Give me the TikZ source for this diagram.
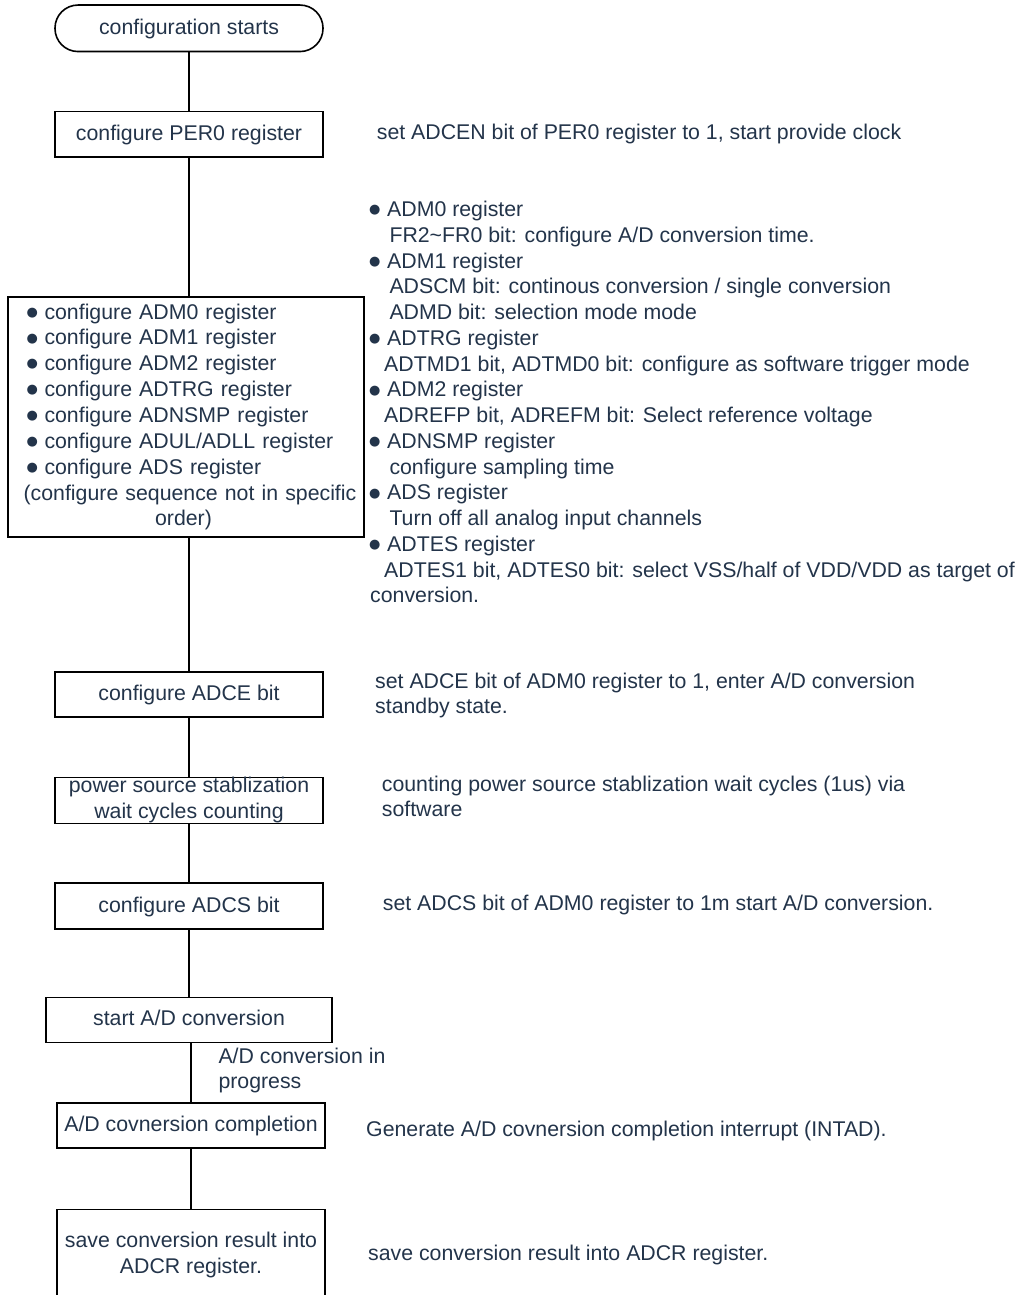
\documentclass[tikz,border=0pt]{standalone}
\usepackage{fontspec}
\setmainfont{Liberation Sans}
\newfontfamily\symfont{DejaVu Sans}
\definecolor{txt}{HTML}{23344A}
\newcommand\blt{\makebox[18pt][l]{\raisebox{2.9pt}{\symfont\fontsize{13}{13}\selectfont ●}}}
\begin{document}
\begin{tikzpicture}[x=1pt,y=-1pt,
  font=\fontsize{21.3}{25.85}\selectfont,
  every node/.style={text=txt},
  box/.style={draw=black, line width=1.6pt, fill=white, inner sep=0pt,
    minimum width=268, minimum height=45, text height=15pt, text depth=3pt, align=center},
  multi/.style={text height={}, text depth={}},
  note/.style={anchor=base west, inner sep=0pt},
  conn/.style={line width=2.2pt, draw=black}]
\path[use as bounding box] (0,0) rectangle (1023,1295);
\clip (0,0) rectangle (1023,1295);
\fill[white] (0,0) rectangle (1023,1295);

% boxes
\node[box, rounded corners=23pt, minimum height=46.5] (start) at (189,28.3) {configuration starts};
\node[box] (per0) at (189,134.2) {configure PER0 register};
\node[box, multi, minimum width=356, minimum height=240, text width=356, align=left] (regs) at (186,417)
  {\hspace*{18.5pt}\blt configure ADM0 register\\
   \hspace*{18.5pt}\blt configure ADM1 register\\
   \hspace*{18.5pt}\blt configure ADM2 register\\
   \hspace*{18.5pt}\blt configure ADTRG register\\
   \hspace*{18.5pt}\blt configure ADNSMP register\\
   \hspace*{18.5pt}\blt configure ADUL/ADLL register\\
   \hspace*{18.5pt}\blt configure ADS register\\
   \makebox[356pt][c]{\hspace{8pt}(configure sequence not in specific}\\
   \makebox[356pt][c]{order)\hspace{5pt}}};
\node[box] (adce) at (189,694.2) {configure ADCE bit};
\node[box, multi, minimum height=46] (power) at (189,800.3) {power source stablization\\wait cycles counting};
\node[box, minimum height=46] (adcs) at (189,906) {configure ADCS bit};
\node[box, minimum width=286] (startad) at (189,1019.8) {start A/D conversion};
\node[box, minimum height=44.5] (compl) at (191,1125.5) {A/D covnersion completion};
\node[box, multi, minimum height=92] (save) at (191,1255.3) {save conversion result into\\ADCR register.};

% connectors
\draw[conn] (start.south) -- (per0.north);
\draw[conn] (per0.south) -- (per0.south |- regs.north);
\draw[conn] (adce.north) -- (adce.north |- regs.south);
\draw[conn] (adce.south) -- (power.north);
\draw[conn] (power.south) -- (adcs.north);
\draw[conn] (adcs.south) -- (startad.north);
\draw[conn] (compl.north) -- (compl.north |- startad.south);
\draw[conn] (compl.south) -- (save.north);

% notes
\node[note] (n1) at (376.7,139.3) {set ADCEN bit of PER0 register to 1, start provide clock};

\node[note] (r1) at (369,216.7) {\blt ADM0 register};
\node[note] (r2) at (389.3,242.45) {FR2\textasciitilde FR0 bit: configure A/D conversion time.};
\node[note] (r3) at (369,268.2) {\blt ADM1 register};
\node[note] (r4) at (389.3,293.95) {ADSCM bit: continous conversion / single conversion};
\node[note] (r5) at (389.3,319.7) {ADMD bit: selection mode mode};
\node[note] (r6) at (369,345.45) {\blt ADTRG register};
\node[note] (r7) at (384,371.2) {ADTMD1 bit, ADTMD0 bit: configure as software trigger mode};
\node[note] (r8) at (369,396.95) {\blt ADM2 register};
\node[note] (r9) at (384,422.7) {ADREFP bit, ADREFM bit: Select reference voltage};
\node[note] (r10) at (369,448.45) {\blt ADNSMP register};
\node[note] (r11) at (389.3,474.2) {configure sampling time};
\node[note] (r12) at (369,499.95) {\blt ADS register};
\node[note] (r13) at (389.3,525.7) {Turn off all analog input channels};
\node[note] (r14) at (369,551.45) {\blt ADTES register};
\node[note] (r15) at (384,577.2) {ADTES1 bit, ADTES0 bit: select VSS/half of VDD/VDD as target of};
\node[note] (r16) at (370,602.95) {conversion.};

\node[note] (n3a) at (375,688.3) {set ADCE bit of ADM0 register to 1, enter A/D conversion};
\node[note] (n3b) at (375,713.3) {standby state.};
\node[note] (n4a) at (381.7,791.7) {counting power source stablization wait cycles (1us) via};
\node[note] (n4b) at (381.7,816.7) {software};
\node[note] (n5) at (382.7,910.7) {set ADCS bit of ADM0 register to 1m start A/D conversion.};
\node[note] (p1) at (218.3,1063.3) {A/D conversion in};
\node[note] (p2) at (218.3,1088.8) {progress};
\node[note] (n6) at (366,1136) {Generate A/D covnersion completion interrupt (INTAD).};
\node[note] (n7) at (368,1260) {save conversion result into ADCR register.};
\end{tikzpicture}
\end{document}
